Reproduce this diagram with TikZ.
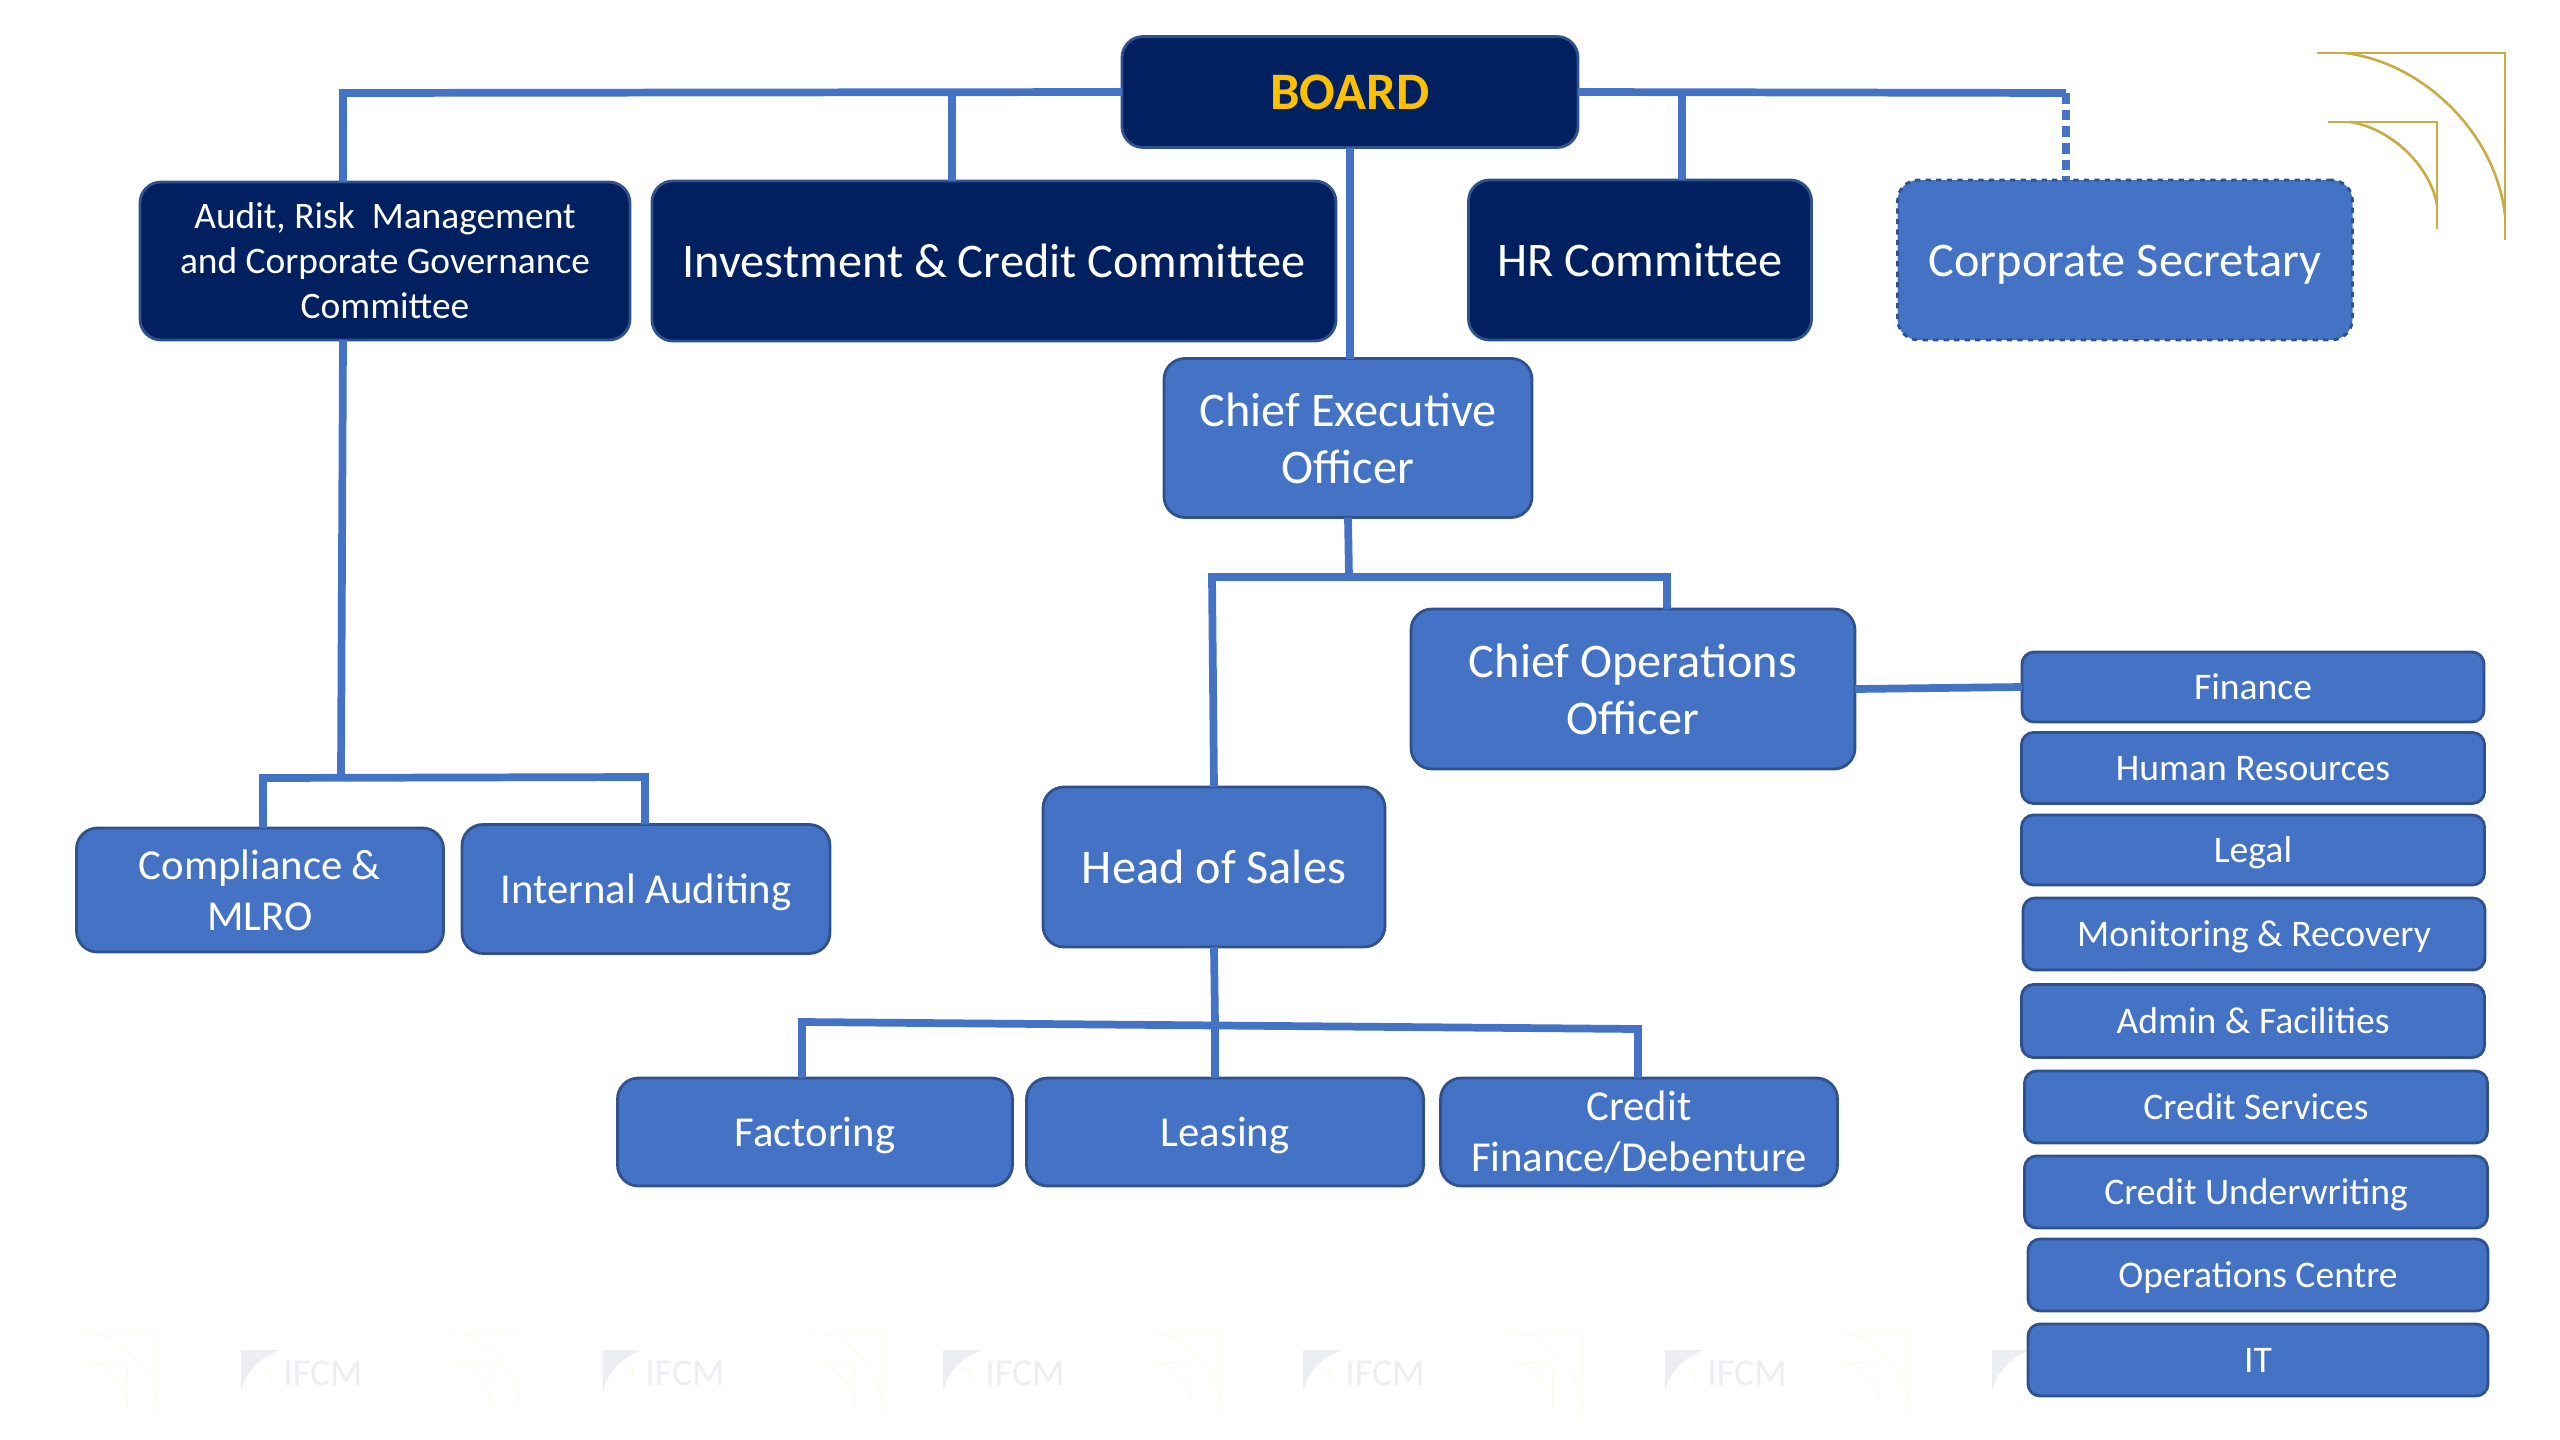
\documentclass[tikz,border=0pt]{standalone}
\usepackage{fontspec}
\setmainfont{Carlito}
\usetikzlibrary{positioning}
\definecolor{navybox}{HTML}{002060}
\definecolor{bluebox}{HTML}{4472C4}
\definecolor{boxline}{HTML}{2F528F}
\definecolor{goldline}{HTML}{C9AC45}
\definecolor{boardgold}{HTML}{FFC000}
\definecolor{ghostgold}{HTML}{FDFCF5}
\definecolor{ghostblue}{HTML}{EDEEF4}
\tikzset{
	x=0.02cm, y=-0.02cm, % coordinates are pixels of the slide
	boxsize/.style 2 args={minimum width=#1*0.02cm, minimum height=#2*0.02cm},
	box/.style={draw=boxline, line width=1.6pt, rounded corners=0.42cm, inner sep=0pt, outer sep=0pt, align=center, text=white},
	navy/.style={box, fill=navybox},
	blue/.style={box, fill=bluebox},
	oneline/.style={execute at begin node={\rule[-0.27em]{0pt}{1.22em}}}, % centres one line as the slide does
	listbox/.style={blue, oneline, rounded corners=0.24cm, font=\fontsize{21.4}{26}\selectfont},
	bigtext/.style={font=\fontsize{27.5}{32.4}\selectfont},
	midtext/.style={font=\fontsize{24.3}{29}\selectfont},
	smalltext/.style={font=\fontsize{21.3}{25.6}\selectfont},
	link/.style={draw=bluebox, line width=4.4pt},
	gold/.style={draw=goldline, line width=1.5pt},
}
\begin{document}
\begin{tikzpicture}
	\useasboundingbox (0,0) rectangle (2560,1440);
	% faint marks along the bottom
	\foreach \gpos in {0,364,727,1065,1426,1753} {
		\draw[ghostgold, line width=1.2pt] (80+\gpos,1333) -- (156+\gpos,1333) -- (156+\gpos,1415)
			(85+\gpos,1363) -- (127+\gpos,1363) -- (127+\gpos,1410)
			(95+\gpos,1333) .. controls (125+\gpos,1340) and (152+\gpos,1370) .. (156+\gpos,1405)
			(95+\gpos,1363) .. controls (110+\gpos,1368) and (125+\gpos,1385) .. (127+\gpos,1400);
	}
	\foreach \xpos/\n in {0/a,362/b,702/c,1062/d,1424/e} {
		\fill[ghostblue] (241+\xpos,1350) -- (280+\xpos,1350) .. controls (258+\xpos,1358) and (244+\xpos,1375) .. (241+\xpos,1392) -- cycle;
		\fill[ghostgold] (257+\xpos,1367) -- (272+\xpos,1367) -- (272+\xpos,1385) .. controls (270+\xpos,1377) and (265+\xpos,1370) .. (257+\xpos,1367);
		\node[text=ghostblue, inner sep=0pt, font=\fontsize{21.6}{25}\selectfont] (mark\n) at (323+\xpos,1373) {IFCM};
	}
	\fill[ghostblue] (1992,1350) -- (2031,1350) .. controls (2009,1358) and (1995,1375) .. (1992,1392) -- cycle;
	% corner logo
	\draw[gold] (2317,53) -- (2505,53) -- (2505,240);
	\draw[gold] (2345,53) .. controls (2420,62) and (2495,130) .. (2505,215);
	\draw[gold] (2328,122) -- (2437,122) -- (2437,229);
	\draw[gold] (2350,122) .. controls (2390,128) and (2430,165) .. (2437,205);
	% committees
	\node[navy, oneline, boxsize={456}{111}, font=\fontsize{30}{32}\selectfont\bfseries, text=boardgold] (board) at (1350,92) {BOARD};
	\node[navy, boxsize={490}{158}, smalltext] (audit) at (385,261) {Audit, Risk\ \ Management\\and Corporate Governance\\Committee};
	\node[navy, oneline, boxsize={684}{160}, bigtext] (invest) at (994,261) {Investment \& Credit Committee};
	\node[navy, oneline, boxsize={343}{160}, bigtext] (hrc) at (1640,260) {HR Committee};
	\node[blue, oneline, boxsize={455}{160}, bigtext, dashed] (corpsec) at (2125,260) {Corporate Secretary};
	% management
	\node[blue, boxsize={368}{159}, bigtext] (ceo) at (1348,438) {Chief Executive\\Officer};
	\node[blue, boxsize={444}{160}, bigtext] (coo) at (1633,689) {Chief Operations\\Officer};
	\node[blue, oneline, boxsize={342}{160}, bigtext] (sales) at (1214,867) {Head of Sales};
	\node[blue, boxsize={367}{124}, midtext] (mlro) at (260,890) {Compliance \&\\MLRO};
	\node[blue, oneline, boxsize={368}{129}, midtext] (internal) at (646,889) {Internal Auditing};
	\node[blue, oneline, boxsize={395}{108}, midtext] (factoring) at (815,1132) {Factoring};
	\node[blue, oneline, boxsize={397}{108}, midtext] (leasing) at (1225,1132) {Leasing};
	\node[blue, boxsize={397}{108}, midtext] (credit) at (1639,1132) {Credit\\Finance/Debenture};
	% departments
	\node[listbox, boxsize={462}{70}] (finance) at (2253,687) {Finance};
	\node[listbox, boxsize={463}{71}] (human) at (2253,768) {Human Resources};
	\node[listbox, boxsize={463}{70}] (legal) at (2253,850) {Legal};
	\node[listbox, boxsize={462}{72}] (monitoring) at (2254,934) {Monitoring \& Recovery};
	\node[listbox, boxsize={463}{73}] (admin) at (2253,1021) {Admin \& Facilities};
	\node[listbox, boxsize={463}{72}] (services) at (2256,1107) {Credit Services};
	\node[listbox, boxsize={463}{72}] (underwriting) at (2256,1192) {Credit Underwriting};
	\node[listbox, boxsize={460}{72}] (operations) at (2258,1275) {Operations Centre};
	\node[listbox, boxsize={460}{72}] (it) at (2258,1360) {IT};
	% junctions
	\coordinate (boardleft) at (343,93);
	\coordinate (boardmid) at (952,92);
	\coordinate (boardhr) at (1682,92);
	\coordinate (boardright) at (2066,93);
	\coordinate (ceosplit) at (1349,577);
	\coordinate (ceoleft) at (1212,577);
	\coordinate (ceoright) at (1667,577);
	\coordinate (auditsplit) at (341,777);
	\coordinate (auditleft) at (263,778);
	\coordinate (auditright) at (645,777);
	\coordinate (salessplit) at (1215,1025);
	\coordinate (salesleft) at (802,1022);
	\coordinate (salesright) at (1638,1029);
	% connectors
	\draw[link] (board.west) -- (boardleft) -- (boardleft |- audit.north);
	\draw[link] (boardmid) -- (boardmid |- invest.north);
	\draw[link] (board.south) -- (ceo.north -| board.south);
	\draw[link] (board.east) -- (boardright);
	\draw[link] (boardhr) -- (boardhr |- hrc.north);
	\draw[link, dash pattern=on 6pt off 3.5pt] (boardright) -- (boardright |- corpsec.north);
	\draw[link] (ceo.south) -- (ceosplit);
	\draw[link] (sales.north) -- (ceoleft) -- (ceoright) -- (ceoright |- coo.north);
	\draw[link] (coo.east) -- (finance.west);
	\draw[link] (boardleft |- audit.south) -- (auditsplit);
	\draw[link] (mlro.north -| auditleft) -- (auditleft) -- (auditright) -- (auditright |- internal.north);
	\draw[link] (sales.south) -- (salessplit);
	\draw[link] (salesleft |- factoring.north) -- (salesleft) -- (salesright) -- (salesright |- credit.north);
	\draw[link] (salessplit) -- (salessplit |- leasing.north);
\end{tikzpicture}
\end{document}
